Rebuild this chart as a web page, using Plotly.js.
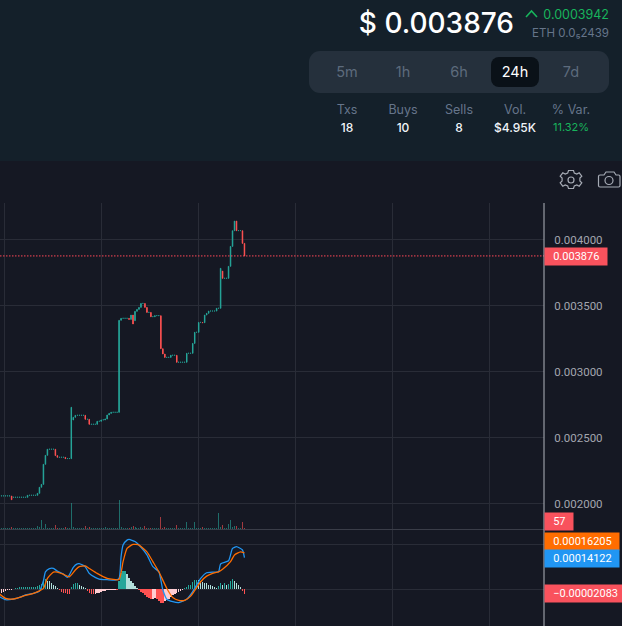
<!DOCTYPE html>
<html><head><meta charset="utf-8">
<script src="https://cdn.plot.ly/plotly-3.0.1.min.js"></script>
<style>
html,body{margin:0;padding:0;background:#151823;overflow:hidden}
#chart{position:absolute;left:0;top:0;width:622px;height:626px}
#head{position:absolute;left:0;top:0;width:622px;height:161px;background:#14202a;font-family:Inter,"Noto Sans",sans-serif;z-index:5}
#head div{position:absolute;white-space:nowrap}
.c{transform:translateX(-50%);text-align:center}
.l{color:#66758a;font-size:12.5px}
.v{color:#f0f4f8;font-size:12px;font-weight:500}
.b{color:#5d6b7c;font-size:14.5px}
#tools{position:absolute;left:0;top:0;z-index:6}
</style></head><body>
<div id="chart"></div>
<div id="head">
<div style="right:108px;top:5px;color:#fff;font-size:28px;font-weight:500;line-height:36px">$ 0.003876</div>
<svg style="position:absolute;left:525px;top:9px" width="14" height="9"><path d="M1 8 L6.500 2 L12 8" fill="none" stroke="#18b45c" stroke-width="1.6"/></svg>
<div style="right:13px;top:6px;color:#18b45c;font-size:12.5px;line-height:17px">0.0003942</div>
<div style="right:13px;top:25px;color:#66758a;font-size:11.500px;line-height:17px">ETH 0.0₅2439</div>
<div style="left:309px;top:51px;width:300px;height:42px;border-radius:11px;background:#25303c"></div>
<div style="left:491px;top:57px;width:48px;height:30px;border-radius:8px;background:#0a1118"></div>
<div class="c b" style="left:347px;top:63px">5m</div>
<div class="c b" style="left:403px;top:63px">1h</div>
<div class="c b" style="left:459px;top:63px">6h</div>
<div class="c b" style="left:515px;top:63px;color:#fff">24h</div>
<div class="c b" style="left:571px;top:63px">7d</div>
<div class="c l" style="left:347px;top:102px">Txs</div>
<div class="c l" style="left:403px;top:102px">Buys</div>
<div class="c l" style="left:459px;top:102px">Sells</div>
<div class="c l" style="left:515px;top:102px">Vol.</div>
<div class="c l" style="left:571px;top:102px">% Var.</div>
<div class="c v" style="left:347px;top:120px">18</div>
<div class="c v" style="left:403px;top:120px">10</div>
<div class="c v" style="left:459px;top:120px">8</div>
<div class="c v" style="left:515px;top:120px">$4.95K</div>
<div class="c v" style="left:571px;top:120px;color:#18b45c;font-size:11px;font-weight:400">11.32%</div>
</div>
<svg id="tools" width="622" height="200">
<g fill="none" stroke="#a6abb5" stroke-width="1.2">
<circle cx="571" cy="180" r="3"/>
<path d="M568.500 170.500h5l.8 2.600 2.500 1 2.400-1.300 2.600 3.400-1.900 1.900v2.800l1.900 1.900-2.600 3.400-2.400-1.300-2.500 1-.8 2.600h-5l-.8-2.600-2.500-1-2.400 1.300-2.600-3.400 1.900-1.900v-2.800l-1.900-1.900 2.600-3.400 2.400 1.300 2.500-1z"/>
<path d="M600 175h4l2-3h8l2 3h2.500a1.500 1.500 0 0 1 1.500 1.500v9a1.500 1.500 0 0 1-1.500 1.500h-18.500a1.500 1.500 0 0 1-1.500-1.500v-9a1.500 1.500 0 0 1 1.500-1.500z"/>
<circle cx="609" cy="180.500" r="4"/>
</g></svg>
<script>
const priceUnit = 1e-6;
const openPrice = [
2057,2057,2057,2057,2057,2057,2057,2047,2047,2047,2047,2047,2047,2047,2047,2062,2062,2062,2062,2062,
2077,2123,2145,2297,2365,2411,2411,2411,2411,2363,2350,2350,2350,2350,2340,2340,2340,2633,2653,2668,
2668,2668,2668,2668,2638,2638,2600,2600,2600,2600,2623,2623,2633,2633,2640,2671,2683,2691,2691,2691,
2691,3388,3403,3403,3403,3403,3395,3428,3385,3456,3471,3486,3516,3516,3486,3448,3448,3415,3415,3423,
3423,3423,3173,3133,3107,3107,3107,3123,3123,3123,3070,3070,3070,3070,3070,3138,3138,3138,3213,3297,
3297,3372,3372,3370,3428,3441,3458,3458,3458,3458,3479,3479,3761,3706,3706,3706,3797,3948,4067,4140,
4067,4067,4067,3971];
const closePrice = [
2058,2058,2058,2058,2058,2058,2029,2048,2048,2048,2048,2048,2048,2048,2062,2063,2063,2063,2063,2077,
2123,2145,2297,2365,2411,2412,2412,2412,2363,2350,2351,2351,2351,2340,2341,2341,2729,2653,2668,2669,
2669,2669,2669,2638,2639,2600,2601,2601,2601,2623,2624,2633,2634,2640,2671,2683,2691,2692,2692,2692,
3388,3403,3404,3404,3404,3395,3428,3360,3456,3471,3486,3516,3517,3486,3448,3449,3415,3416,3423,3424,
3424,3173,3133,3107,3108,3108,3123,3124,3124,3070,3071,3071,3071,3071,3138,3139,3139,3213,3297,3298,
3372,3373,3370,3428,3441,3458,3459,3459,3459,3479,3480,3782,3706,3707,3707,3797,3948,4067,4140,4067,
4068,4068,3971,3876];
const volumeValues = [
60,60,60,60,60,60,100,60,60,60,60,60,60,60,60,60,60,60,60,160,
100,540,60,280,60,60,60,60,220,80,60,60,60,100,60,60,1560,120,60,60,
60,60,60,180,60,120,60,60,60,80,60,60,60,120,60,60,60,60,60,60,
1740,100,60,60,60,60,120,200,120,60,60,120,60,180,60,60,60,60,60,60,
60,720,60,100,60,60,60,60,60,220,60,60,60,60,400,60,60,60,400,60,
60,60,120,60,60,60,60,60,60,60,940,100,220,60,60,280,540,100,160,180,
60,60,400,57];
const histValues = [
-18,-15,-10,-7,-4,-3,-1,3,4,7,9,10,10,10,10,10,10,10,12,13,
18,22,37,44,38,36,30,21,15,6,-4,-10,-15,-18,-19,-21,12,25,30,30,
21,15,9,4,-7,-15,-21,-22,-21,-18,-15,-12,-9,-7,-4,-3,-1,-1,-1,-3,
37,74,81,81,67,52,37,27,15,7,-4,-10,-18,-27,-36,-38,-41,-41,-38,-44,
-53,-59,-62,-53,-47,-41,-36,-27,-21,-18,-12,-9,-4,4,12,18,19,33,40,41,
40,37,33,30,27,21,18,15,9,6,15,30,21,27,21,24,38,44,38,27,
21,12,-7,-21];
const macdIdx = [0,3,7,10,13,17,20,22,23,25,27,29,32,34,35,37,39,40,43,45,48,50,54,58,60,61,62,64,65,68,70,74,77,80,82,84,87,90,94,97,101,104,107,110,111,115,117,119,122,123];
const macdValues = [-33,-46,-43,-36,-25,-18,-7,39,78,92,93,81,68,53,64,98,113,114,101,71,53,46,43,41,49,145,197,219,222,213,197,153,101,78,-3,-44,-55,-59,-44,-10,49,74,77,78,113,127,182,190,175,141];
const signalIdx = [0,3,7,10,13,17,20,22,24,27,29,32,35,38,40,43,45,49,54,60,62,64,67,70,74,77,80,84,87,90,93,96,101,104,107,110,112,116,118,121,123];
const signalValues = [-21,-40,-43,-36,-27,-18,-7,4,49,77,77,67,56,86,101,104,93,71,49,44,123,182,200,197,167,123,78,4,-36,-49,-49,-30,34,59,71,78,89,123,153,167,162];
const priceTicks = [0.002,0.0025,0.003,0.0035,0.004];
const macdTicks = [0,0.0002];
const macdTickText = ["0.000000",""];
const gridTimes = [2.4,51.1,99.8,148.6,197.3,246];
const lastPrice = 0.003876;
const labels = {volume:"57", signal:"0.00016205", macd:"0.00014122", hist:"\u22120.00002083"};

const UP="#26a69a", DOWN="#ff5252";
const idx = openPrice.map((_,i)=>i);
const op = openPrice.map(v=>v*priceUnit), cl = closePrice.map(v=>v*priceUnit);
const volColor = idx.map(i=>closePrice[i]>=openPrice[i]?"rgba(38,166,154,0.6)":"rgba(255,82,82,0.6)");
const histColor = histValues.map((v,i)=>{
  const p = i? histValues[i-1]:v;
  return v>=0 ? (v>=p?"#26a69a":"#b2dfdb") : (v<p?"#ff5252":"#ffcdd2");
});
const GRID="#292c37", TXT="#a3a6af";
const H=423, toPaper = y=>(626-y)/H;
const FONT="Roboto, Inter, sans-serif";
function tag(text,yc,bg,w){return {xref:"paper",yref:"paper",x:1,y:toPaper(yc),xanchor:"left",yanchor:"middle",
  text:"&nbsp;&nbsp;&nbsp;"+text,showarrow:false,bgcolor:bg,width:w,height:17,align:"left",borderpad:0,
  font:{family:FONT,size:11,color:"#fff"}};}
const data = [
 {type:"candlestick",x:idx,open:op,close:cl,high:idx.map(i=>Math.max(op[i],cl[i])),low:idx.map(i=>Math.min(op[i],cl[i])),
  xaxis:"x",yaxis:"y",increasing:{line:{color:UP,width:1},fillcolor:UP},decreasing:{line:{color:DOWN,width:1},fillcolor:DOWN},
  whiskerwidth:0,hoverinfo:"skip",showlegend:false},
 {type:"bar",x:idx,y:volumeValues,xaxis:"x",yaxis:"y2",width:0.5,marker:{color:volColor,line:{width:0}},hoverinfo:"skip",showlegend:false},
 {type:"bar",x:idx,y:histValues.map(v=>v*priceUnit),xaxis:"x",yaxis:"y3",width:0.7,marker:{color:histColor,line:{width:0}},hoverinfo:"skip",showlegend:false},
 {type:"scatter",mode:"lines",x:macdIdx,y:macdValues.map(v=>v*priceUnit),xaxis:"x",yaxis:"y3",line:{color:"#2196f3",width:1.3,shape:"spline",smoothing:0.5},hoverinfo:"skip",showlegend:false},
 {type:"scatter",mode:"lines",x:signalIdx,y:signalValues.map(v=>v*priceUnit),xaxis:"x",yaxis:"y3",line:{color:"#ff6d00",width:1.3,shape:"spline",smoothing:0.5},hoverinfo:"skip",showlegend:false}
];
const layout = {
 width:622,height:626,margin:{l:0,r:78,t:203,b:0,pad:0},
 paper_bgcolor:"#151823",plot_bgcolor:"rgba(0,0,0,0)",showlegend:false,bargap:0,barmode:"overlay",boxgap:0.65,
 font:{family:FONT,size:11,color:TXT},
 xaxis:{range:[0.17,273.5],tickvals:gridTimes,showticklabels:false,showgrid:true,gridcolor:GRID,gridwidth:1,zeroline:false,ticks:"",rangeslider:{visible:false},anchor:"y3",fixedrange:true},
 yaxis:{domain:[toPaper(529),1],range:[0.001807,0.004277],side:"right",tickvals:priceTicks,tickformat:".6f",gridcolor:GRID,zeroline:false,ticks:"outside",ticklen:7,tickcolor:"rgba(0,0,0,0)",tickfont:{family:FONT,size:11.5,color:TXT},anchor:"x",fixedrange:true},
 yaxis2:{domain:[toPaper(529),toPaper(489)],range:[0,2400],side:"right",showgrid:false,showticklabels:false,zeroline:false,anchor:"x",fixedrange:true},
 yaxis3:{domain:[0,toPaper(530)],range:[-0.000163,0.000264],side:"right",tickvals:macdTicks,ticktext:macdTickText,gridcolor:GRID,zeroline:false,ticks:"outside",ticklen:7,tickcolor:"rgba(0,0,0,0)",tickfont:{family:FONT,size:11.5,color:TXT},anchor:"x",fixedrange:true},
 shapes:[
  {type:"line",xref:"paper",x0:0,x1:1,yref:"y",y0:lastPrice,y1:lastPrice,line:{color:"#ff4757",width:1,dash:"1.5px,1.5px"}},
  {type:"line",xref:"paper",x0:0,x1:1,yref:"paper",y0:toPaper(529.5),y1:toPaper(529.5),line:{color:"#3a3d48",width:1}},
  {type:"line",xref:"paper",x0:1,x1:1,yref:"paper",y0:0,y1:1,line:{color:"#b2b5be",width:1}}
 ],
 annotations:[
  tag(lastPrice.toFixed(6),256.5,"#f9525d",62),
  tag(labels.volume,521.5,"#f9525d",28),
  tag(labels.signal,541,"#ff6d00",74),
  tag(labels.macd,558,"#2196f3",74),
  tag(labels.hist,593.5,"#f9525d",78)
 ]
};
Plotly.newPlot("chart",data,layout,{displayModeBar:false,staticPlot:true});
</script>
</body></html>
